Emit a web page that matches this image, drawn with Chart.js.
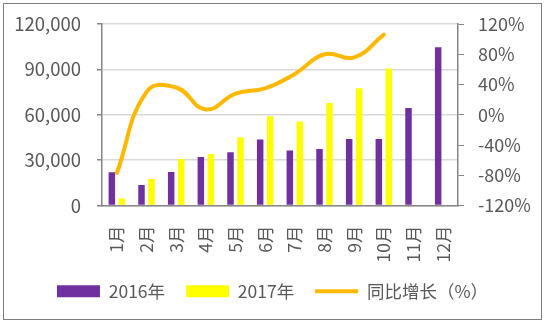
<!DOCTYPE html>
<html>
<head>
<meta charset="utf-8">
<script src="https://cdn.jsdelivr.net/npm/chart.js@4/dist/chart.umd.min.js"></script>
<style>
  html, body { margin: 0; padding: 0; background: #fff; }
  #frame {
    position: absolute; left: 3px; top: 3px;
    width: 539px; height: 317px;
    border: 1px solid #7f7f7f; box-sizing: border-box;
  }
  #frame canvas { display: block; }
</style>
</head>
<body>
<div id="frame"><canvas id="chart" width="537" height="315"></canvas></div>
<script>
// monthly values
const months = ['1月', '2月', '3月', '4月', '5月', '6月', '7月', '8月', '9月', '10月', '11月', '12月'];
const sales2016 = [22000, 13600, 22200, 32100, 35200, 43700, 36300, 37400, 44000, 44000, 64400, 104600];
const sales2017 = [4600, 17600, 30800, 34100, 45000, 59000, 55600, 67700, 77600, 90500, null, null];
const growth = [-77, 30, 36, 7, 28, 35, 54, 80, 76, 106, null, null]; // %

const leftTicks = [0, 30000, 60000, 90000, 120000];
const rightTicks = [-120, -80, -40, 0, 40, 80, 120];

const textColor = '#595959';
const axisColor = '#868686';
const fontFamily = "'Noto Sans CJK SC', 'Noto Sans', sans-serif";

// keep the y axes from pushing the plot area down
function fixSide(width) {
  return s => { s.width = width; s.paddingTop = 0; s.paddingBottom = 0; };
}

const ctx = document.getElementById('chart').getContext('2d');

new Chart(ctx, {
  data: {
    labels: months,
    datasets: [
      {
        type: 'bar',
        label: '2016年',
        data: sales2016,
        backgroundColor: '#7030A0',
        yAxisID: 'y',
        order: 1,
        categoryPercentage: 0.673,
        barPercentage: 0.65
      },
      {
        type: 'bar',
        label: '2017年',
        data: sales2017,
        backgroundColor: '#FFFF00',
        yAxisID: 'y',
        order: 1,
        categoryPercentage: 0.673,
        barPercentage: 0.65
      },
      {
        type: 'line',
        label: '同比增长（%）',
        data: growth,
        borderColor: '#FFB800',
        backgroundColor: '#FFB800',
        borderWidth: 4,
        borderCapStyle: 'round',
        pointRadius: 0,
        tension: 0.45,
        yAxisID: 'y1',
        order: 0
      }
    ]
  },
  options: {
    responsive: false,
    animation: false,
    layout: { padding: { left: 0, right: 0, top: 20, bottom: 9 } },
    scales: {
      x: {
        offset: true,
        afterFit: s => { s.height = 56; },
        grid: { display: false, drawTicks: false },
        border: { color: axisColor, width: 1.5 },
        ticks: {
          color: textColor,
          font: { family: fontFamily, size: 17.5 },
          minRotation: 90, maxRotation: 90,
          padding: 20
        }
      },
      y: {
        position: 'left',
        min: 0, max: 120000,
        afterBuildTicks: s => { s.ticks = leftTicks.map(v => ({ value: v })); },
        afterFit: fixSide(98),
        grid: { color: '#D9D9D9', lineWidth: 1.5, tickColor: axisColor, tickLength: 5 },
        border: { color: axisColor, width: 1.5 },
        ticks: {
          color: textColor,
          font: { family: fontFamily, size: 18.5 },
          padding: 16,
          callback: v => v.toLocaleString('en-US')
        }
      },
      y1: {
        position: 'right',
        min: -120, max: 120,
        afterBuildTicks: s => { s.ticks = rightTicks.map(v => ({ value: v })); },
        afterFit: fixSide(83),
        grid: { drawOnChartArea: false, color: axisColor, tickLength: 6 },
        border: { color: axisColor, width: 1.5 },
        ticks: {
          color: textColor,
          font: { family: fontFamily, size: 18 },
          padding: 14,
          callback: v => v + '%'
        }
      }
    },
    plugins: {
      tooltip: { enabled: false },
      legend: {
        position: 'bottom',
        labels: {
          color: textColor,
          font: { family: fontFamily, size: 17.5 },
          usePointStyle: true,
          pointStyleWidth: 43,
          boxHeight: 12,
          padding: 21,
          sort: (a, b) => a.datasetIndex - b.datasetIndex,
          generateLabels: chart => {
            const items = Chart.defaults.plugins.legend.labels.generateLabels(chart);
            items.forEach(it => { it.pointStyle = it.datasetIndex === 2 ? 'line' : 'rect'; });
            return items;
          }
        }
      }
    }
  }
});
</script>
</body>
</html>
